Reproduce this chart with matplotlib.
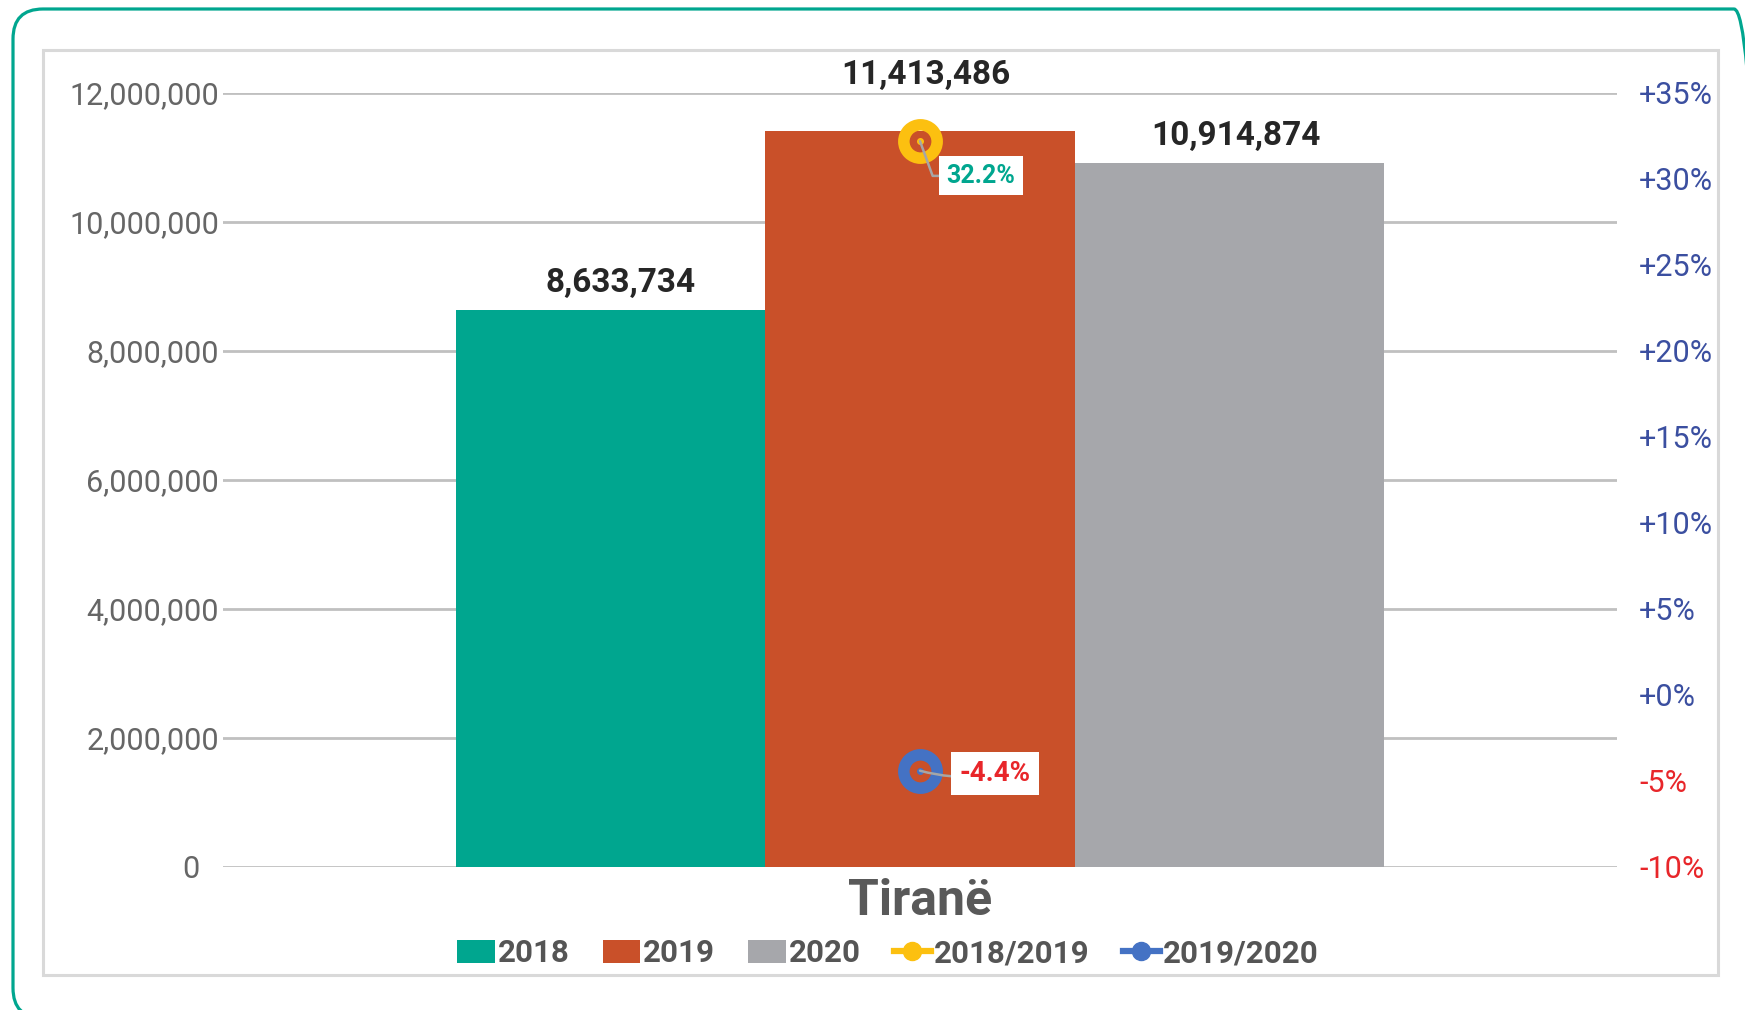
"""
Tiranë yearly totals 2018-2020 with year-over-year change markers.
"""
import matplotlib
matplotlib.use("Agg")
import matplotlib.pyplot as plt
from matplotlib.patches import Patch, FancyBboxPatch, Rectangle
from matplotlib.lines import Line2D
from matplotlib.ticker import FuncFormatter
from matplotlib.transforms import ScaledTranslation

# ─── Data ─────────────────────────────────────────────────────────────────────
city          = "Tiranë"
years         = ["2018", "2019", "2020"]
values        = [8633734, 11413486, 10914874]
change_labels = ["2018/2019", "2019/2020"]
change_pct    = [32.2, -4.4]
left_ticks    = [0, 2000000, 4000000, 6000000, 8000000, 10000000, 12000000]
right_ticks   = [-10, -5, 0, 5, 10, 15, 20, 25, 30, 35]

# ─── Style ────────────────────────────────────────────────────────────────────
BAR_COLORS    = ["#00A68F", "#C95029", "#A6A7AB"]
CHG_COLORS    = ["#FCC010", "#4472C4"]
CHG_TXT       = ["#00A68F", "#E8262A"]
POS_BLUE      = "#3B4FA0"
NEG_RED       = "#E8262A"
GRID          = "#C0C0C0"
TICK_GRAY     = "#666666"

plt.rcParams["font.family"] = ["Roboto", "DejaVu Sans"]

W, H, DPI = 1745, 1010, 100
fig = plt.figure(figsize=(W / DPI, H / DPI), dpi=DPI)

# outer rounded green border (runs off the right/bottom edges) + gray frame
r = 30 / W
fig.patches.append(FancyBboxPatch(
    (13 / W, -8 / H), (1764 - 13) / W, (H - 9 + 8) / H,
    boxstyle=f"round,pad=0,rounding_size={r}",
    mutation_aspect=W / H,
    transform=fig.transFigure, fill=False,
    edgecolor="#00A68F", linewidth=2.3))
fig.patches.append(Rectangle(
    (43 / W, 35 / H), (1718 - 43) / W, (975 - 50) / H,
    transform=fig.transFigure, fill=False,
    edgecolor="#D9D9D9", linewidth=2.2))

ax = fig.add_axes([223 / W, 143 / H, (1617 - 223) / W, (867 - 93) / H])
ax2 = ax.twinx()

# bars
bw = 0.222
xs = [(i - 1) * bw for i in range(len(years))]
bars = ax.bar(xs, values, width=bw, color=BAR_COLORS, zorder=2)

label_offsets = [(7, 8), (4, 29), (5, 8)]
for b, v, off in zip(bars, values, label_offsets):
    ax.annotate(f"{v:,}", (b.get_x() + b.get_width() / 2, v),
                xytext=off, textcoords="offset points",
                ha="center", va="bottom", fontsize=24,
                fontweight="bold", color="#262626")

ax.set_xlim(-0.5, 0.5)
ax.set_ylim(0, 12000000)
ax.set_yticks(left_ticks)
ax.yaxis.set_major_formatter(FuncFormatter(lambda v, p: f"{int(v):,}"))
ax.tick_params(axis="y", length=0, pad=3, labelsize=22, labelcolor=TICK_GRAY)
ax.set_xticks([0])
ax.set_xticklabels([city])
ax.tick_params(axis="x", length=0, pad=8, labelsize=36, labelcolor="#595959")
for t in ax.get_xticklabels():
    t.set_fontweight("bold")
ax.yaxis.grid(True, color=GRID, linewidth=2.0)
ax.set_axisbelow(True)

# the "0" label sits a bit further left in the original
zero_lbl = ax.yaxis.get_major_ticks()[0].label1
zero_lbl.set_transform(zero_lbl.get_transform()
                       + ScaledTranslation(-0.19, 0, fig.dpi_scale_trans))

# change markers on the secondary axis
ax2.set_ylim(-10, 35)
ax2.set_yticks(right_ticks)
ax2.set_yticklabels([f"{t:+d}%" if t >= 0 else f"{t}%" for t in right_ticks])
ax2.tick_params(axis="y", length=0, pad=16, labelsize=22)
for t, v in zip(ax2.get_yticklabels(), right_ticks):
    t.set_color(POS_BLUE if v >= 0 else NEG_RED)

chg_offsets = [(44, -25), (54, -2)]
chg_sizes   = [18, 20]
chg_conn    = ["angle,angleA=0,angleB=110,rad=0", "arc3,rad=-0.12"]
for pct, col, tcol, off, fs, cs in zip(change_pct, CHG_COLORS, CHG_TXT,
                                       chg_offsets, chg_sizes, chg_conn):
    ax2.plot([0], [pct], marker="o", markersize=24, markerfacecolor="none",
             markeredgecolor=col, markeredgewidth=8.3, zorder=5)
    ax2.plot([0], [pct], marker="o", markersize=4, color=col, zorder=6)
    ax2.annotate(f"{pct:.1f}%", (0, pct), xytext=off,
                 textcoords="offset points", ha="center", va="center",
                 fontsize=fs, fontweight="bold", color=tcol, zorder=7,
                 bbox=dict(boxstyle="square,pad=0.3", fc="white", ec="none"),
                 arrowprops=dict(arrowstyle="-", color="#A6A6A6", lw=1.8,
                                 shrinkA=0, shrinkB=0, connectionstyle=cs))

for a in (ax, ax2):
    for s in a.spines.values():
        s.set_visible(False)

# legend
handles = [Patch(facecolor=c, edgecolor="none", label=y)
           for c, y in zip(BAR_COLORS, years)]
handles += [Line2D([], [], color=c, lw=4.5, marker="o", markersize=13,
                   label=l) for c, l in zip(CHG_COLORS, change_labels)]
leg = fig.legend(handles=handles, loc="center", ncol=5, frameon=False,
                 bbox_to_anchor=(0.509, 0.056), fontsize=22.5,
                 handlelength=1.2, handleheight=0.75, handletextpad=0.1,
                 columnspacing=1.05)
for t in leg.get_texts():
    t.set_fontweight("bold")
    t.set_color("#555555")

fig.savefig("out.png", dpi=DPI)
